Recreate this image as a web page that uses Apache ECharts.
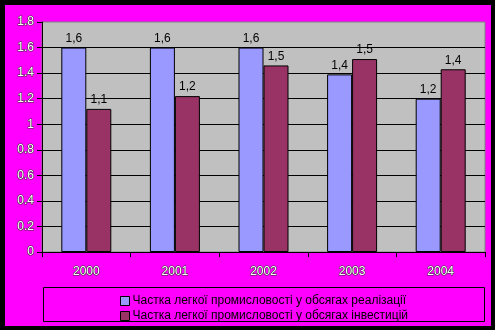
<!DOCTYPE html>
<html><head><meta charset="utf-8">
<script src="https://cdn.jsdelivr.net/npm/echarts@6/dist/echarts.min.js"></script>
<style>html,body{margin:0;padding:0;background:#000}#c{width:495px;height:330px}</style>
</head><body><div id="c"></div>
<script>
const categories = ['2000', '2001', '2002', '2003', '2004'];
const salesShare = [1.6, 1.6, 1.6, 1.39, 1.2];
const investShare = [1.12, 1.22, 1.46, 1.51, 1.43];
const seriesNames = ['Частка легкої промисловості у обсягах реалізації', 'Частка легкої промисловості у обсягах інвестицій'];
const yTicks = [0, 0.2, 0.4, 0.6, 0.8, 1, 1.2, 1.4, 1.6, 1.8];

const chart = echarts.init(document.getElementById('c'), null, {renderer: 'canvas'});
const fontFamily = 'Liberation Sans, Arial, sans-serif';
const axisLabelStyle = {color: '#fff', fontFamily, fontSize: 12, textBorderColor: '#333', textBorderWidth: 1};
const lbl = {show: true, position: 'top', distance: 3, color: '#000', fontFamily, fontSize: 12,
  formatter: p => (Math.round(p.value * 10) / 10).toFixed(1).replace('.', ',')};
chart.setOption({
  animation: false,
  backgroundColor: '#000',
  graphic: [
    {type: 'rect', z: -10, shape: {x: 5, y: 5, width: 486, height: 321}, style: {fill: '#FF00FF'}},
    {type: 'rect', z: -9, shape: {x: 43.5, y: 287.5, width: 441, height: 34}, style: {fill: 'none', stroke: '#000', lineWidth: 1}}
  ],
  grid: {left: 42, top: 22, width: 443, height: 230, show: true, backgroundColor: '#C0C0C0', borderColor: '#808080', borderWidth: 1},
  legend: {
    orient: 'vertical', left: 115, top: 290, itemGap: 3, itemWidth: 9, itemHeight: 9,
    icon: 'rect', textStyle: {color: '#000', fontFamily, fontSize: 12, padding: [0, 0, 0, -2]},
    itemStyle: {borderColor: '#000', borderWidth: 1},
    data: seriesNames
  },
  xAxis: {
    type: 'category', data: categories,
    axisLine: {lineStyle: {color: '#000', width: 1}},
    axisTick: {show: true, length: 5, lineStyle: {color: '#000'}},
    axisLabel: Object.assign({margin: 14}, axisLabelStyle)
  },
  yAxis: {
    type: 'value', min: 0, max: 1.8, interval: 0.2,
    axisLine: {show: true, lineStyle: {color: '#000'}},
    axisTick: {show: true, length: 5, lineStyle: {color: '#000'}},
    axisLabel: Object.assign({margin: 8, formatter: v => String(Math.round(v * 10) / 10)}, axisLabelStyle),
    splitLine: {show: true, showMaxLine: false, lineStyle: {color: '#000', width: 1}}
  },
  series: [
    {name: seriesNames[0], type: 'bar', data: salesShare, barWidth: 25, barGap: '0%',
     itemStyle: {color: '#9999FF', borderColor: '#000', borderWidth: 1}, label: lbl},
    {name: seriesNames[1], type: 'bar', data: investShare, barWidth: 25, barGap: '0%',
     itemStyle: {color: '#993366', borderColor: '#000', borderWidth: 1}, label: lbl}
  ]
});
</script></body></html>
